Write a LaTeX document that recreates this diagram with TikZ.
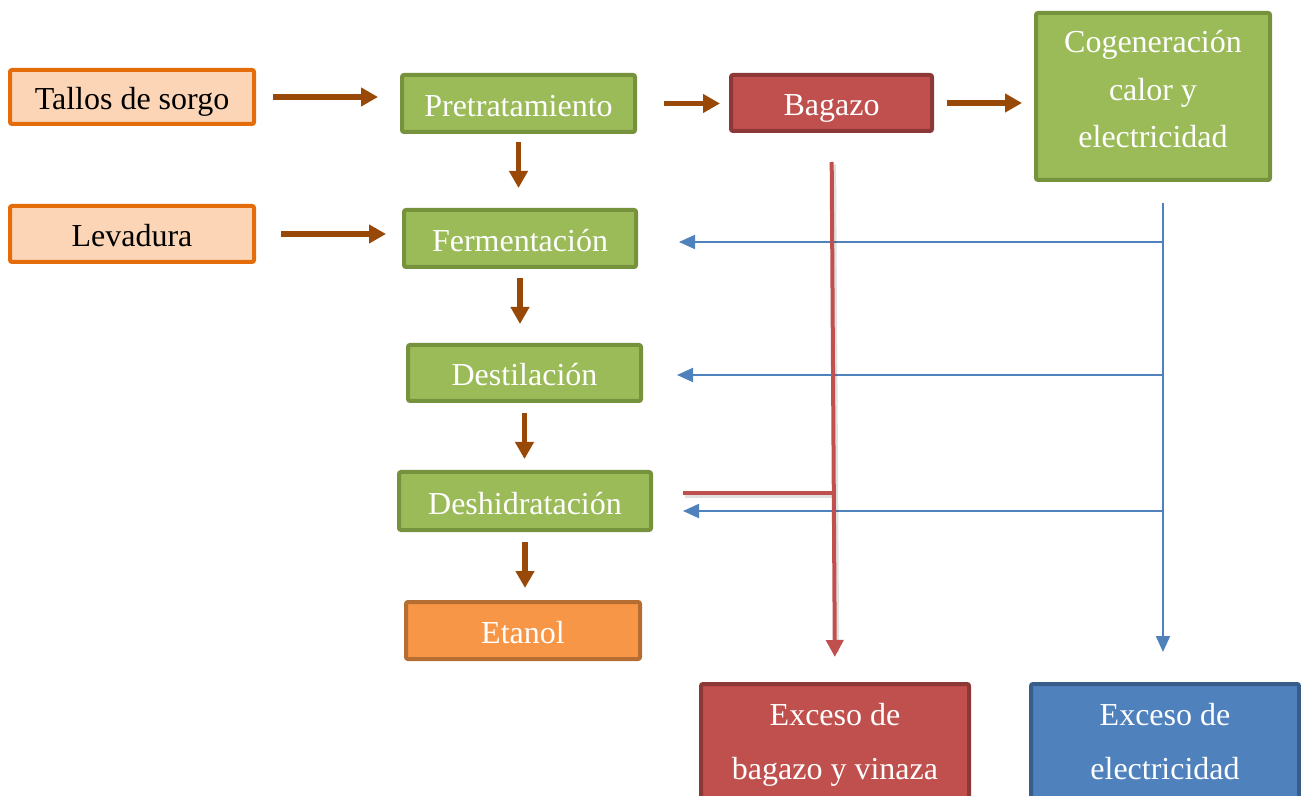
\documentclass[tikz,border=0pt]{standalone}
\usepackage{fontspec}
\setmainfont{Liberation Serif}
\usetikzlibrary{arrows.meta}
\definecolor{peach}{HTML}{FBD5B5}
\definecolor{orangeb}{HTML}{E46C0A}
\definecolor{greenf}{HTML}{9BBB59}
\definecolor{greenb}{HTML}{76923C}
\definecolor{redf}{HTML}{C0504D}
\definecolor{redb}{HTML}{8C3836}
\definecolor{bluef}{HTML}{4F81BD}
\definecolor{blueb}{HTML}{385D8A}
\definecolor{orangef}{HTML}{F79646}
\definecolor{orangeeb}{HTML}{B66D31}
\definecolor{brownarr}{HTML}{984807}
\begin{document}
\begin{tikzpicture}[x=0.5pt,y=-0.5pt,
  box/.style={rectangle, rounded corners=1pt, line width=2pt, inner sep=0pt, outer sep=1pt,
    align=center, font=\fontsize{16}{19}\selectfont, text height=13pt, text depth=0pt},
  inbox/.style={box, fill=peach, draw=orangeb, text=black},
  procbox/.style={box, fill=greenf, draw=greenb, text=white},
  redbox/.style={box, fill=redf, draw=redb, text=white},
  bluebox/.style={box, fill=bluef, draw=blueb, text=white},
  outbox/.style={box, fill=orangef, draw=orangeeb, text=white},
  flow/.style={draw=brownarr, line width=2.75pt, -{Triangle[width=9pt,length=8.5pt]}},
  elec/.style={draw=bluef, line width=1pt},
  elecarr/.style={elec, -{Triangle[width=7pt,length=8pt]}},
  waste/.style={draw=redf, line width=2pt},
  wastearr/.style={waste, -{Triangle[width=8.5pt,length=8.5pt]}},
  shade/.style={draw=black, opacity=0.12, line width=2pt}
]
\useasboundingbox (0,0) rectangle (1301,796);

\node[inbox, minimum width=122pt, minimum height=27pt] (tallos) at (132,97) {Tallos de sorgo};
\node[inbox, minimum width=122pt, minimum height=28pt] (lev) at (132,234) {Levadura};
\node[procbox, minimum width=116.5pt, minimum height=28.5pt] (pre) at (518.5,103.5) {Pretratamiento};
\node[procbox, minimum width=116pt, minimum height=28.5pt] (fer) at (520,238.5) {Fermentación};
\node[procbox, minimum width=116.5pt, minimum height=28pt] (des) at (524.5,373) {Destilación};
\node[procbox, minimum width=126pt, minimum height=29pt] (deh) at (525,501) {Deshidratación};
\node[outbox, minimum width=117pt, minimum height=28.5pt] (eta) at (523,630.5) {Etanol};
\node[redbox, minimum width=100.5pt, minimum height=28pt] (bag) at (831.5,103) {Bagazo};
\node[procbox, minimum width=117pt, minimum height=83.5pt, text height=52pt, text depth=0.5pt,
  font=\fontsize{16}{23.75}\selectfont] (cog) at (1153,96.5) {Cogeneración\\calor y\\electricidad};
\node[redbox, minimum width=134pt, minimum height=59.5pt, text height=36pt, text depth=0.5pt,
  font=\fontsize{16}{27}\selectfont] (exb) at (835,743.5) {Exceso de\\bagazo y vinaza};
\node[bluebox, minimum width=134pt, minimum height=59.5pt, text height=36pt, text depth=0.5pt,
  font=\fontsize{16}{27}\selectfont] (exe) at (1165,743.5) {Exceso de\\electricidad};

% main flow arrows
\draw[flow, shorten <=8.5pt, shorten >=11pt] (tallos.east) -- (tallos.east -| pre.west);
\draw[flow, shorten <=13.5pt, shorten >=4.5pt] (pre.east) -- (pre.east -| bag.west);
\draw[flow, shorten <=6.5pt, shorten >=6pt] (bag.east) -- (bag.east -| cog.west);
\draw[flow, shorten <=12.5pt, shorten >=8pt] (lev.east) -- (lev.east -| fer.west);
\draw[flow, shorten <=4pt, shorten >=10pt] (pre.south) -- (pre.south |- fer.north);
\draw[flow, shorten <=4.5pt, shorten >=9.5pt] (fer.south) -- (fer.south |- des.north);
\draw[flow, shorten <=5pt, shorten >=5.5pt] (des.south) -- (des.south |- deh.north);
\draw[flow, shorten <=5pt, shorten >=6pt] (deh.south) -- (deh.south |- eta.north);

% electricity distribution
\coordinate (b0) at (1163,203);
\coordinate (b1) at (1163,242);
\coordinate (b2) at (1163,375);
\coordinate (b3) at (1163,511);
\draw[elecarr, shorten >=15pt] (b0) -- (b0 |- exe.north);
\draw[elecarr, shorten >=20.5pt] (b1) -- (fer.east |- b1);
\draw[elecarr, shorten >=17pt] (b2) -- (des.east |- b2);
\draw[elecarr, shorten >=15pt] (b3) -- (deh.east |- b3);

% bagasse / vinasse
\coordinate (rj) at (832,493);
\draw[shade, shorten <=14.5pt, shorten >=16pt, transform canvas={xshift=1.2pt,yshift=-1.2pt}] (bag.south) -- (exb.north);
\draw[shade, shorten >=15pt, transform canvas={xshift=0.8pt,yshift=-1.5pt}] (rj) -- (deh.east |- rj);
\draw[wastearr, shorten <=14.5pt, shorten >=12.5pt] (bag.south) -- (exb.north);
\draw[waste, shorten >=15pt] (rj) -- (deh.east |- rj);
\end{tikzpicture}
\end{document}
